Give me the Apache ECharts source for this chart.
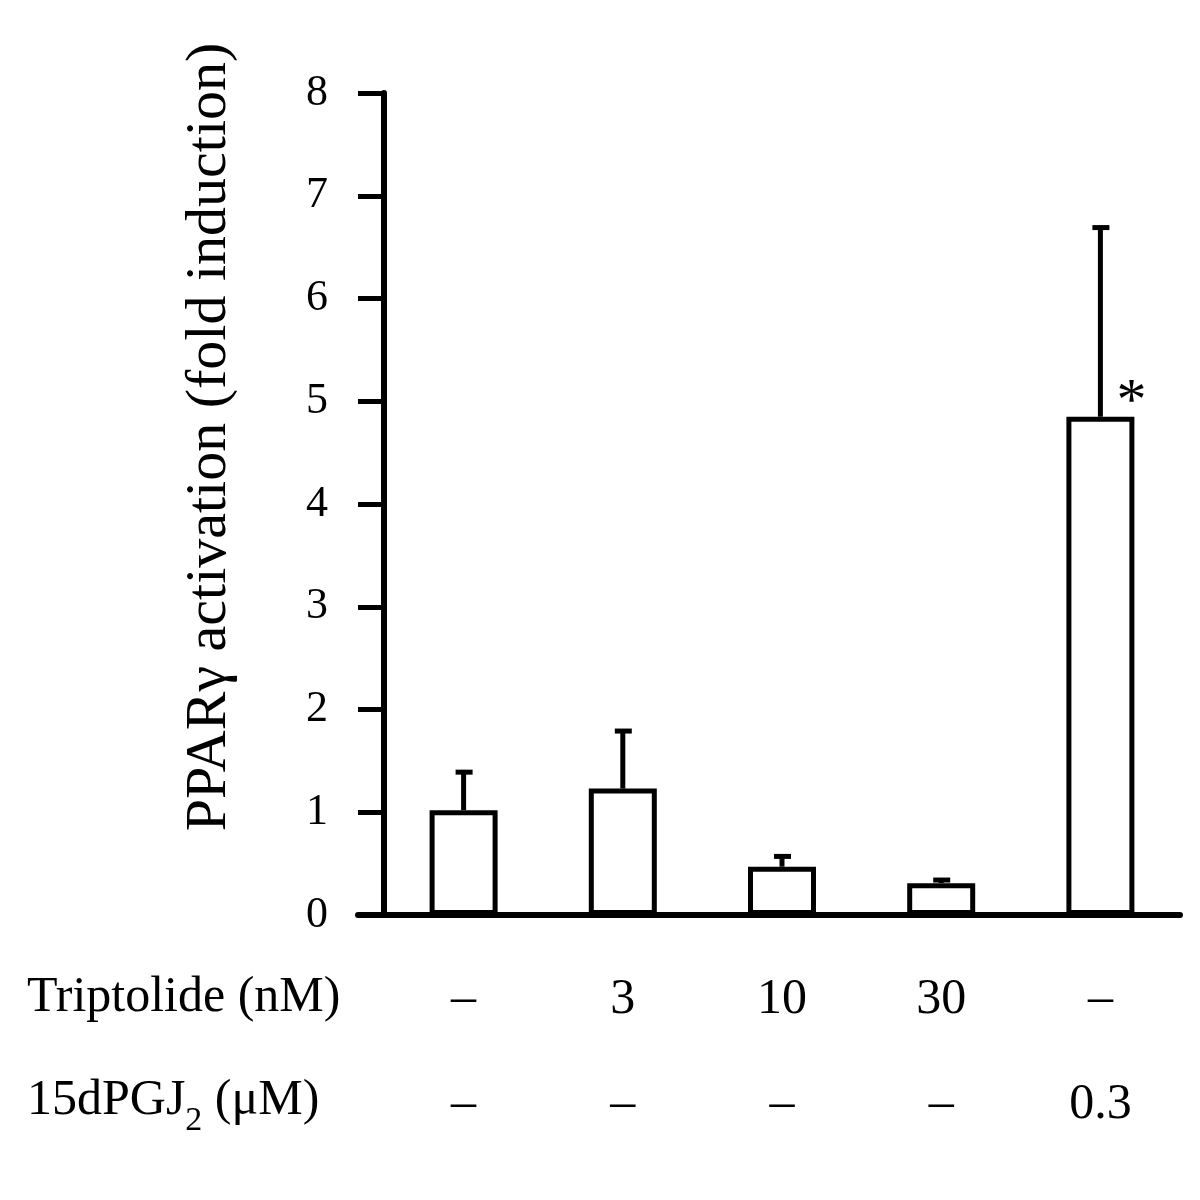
<!DOCTYPE html>
<html><head><meta charset="utf-8">
<script src="https://cdn.jsdelivr.net/npm/echarts@6/dist/echarts.min.js"></script>
<style>html,body{margin:0;padding:0;background:#fff}#c{width:1200px;height:1200px}</style>
</head><body><div id="c"></div>
<script>
const categories = ['ctrl', 'trip3', 'trip10', 'trip30', 'pgj'];
const triptolideLabels = ['–', '3', '10', '30', '–'];
const pgj2Labels = ['–', '–', '–', '–', '0.3'];
const meanValues = [1.02, 1.23, 0.47, 0.31, 4.85];
const errorValues = [0.38, 0.57, 0.11, 0.04, 1.85];
const significance = ['', '', '', '', '*'];
const yAxisName = 'PPARγ activation (fold induction)';
const row1Title = 'Triptolide (nM)';
const row2Title = ['15dPGJ', '2', ' (μM)'];

const FONT = 'Liberation Serif';
const chart = echarts.init(document.getElementById('c'), null, {renderer: 'canvas'});

const barData = meanValues.map((v, i) => significance[i] ? {
  value: v,
  label: {show: true, formatter: significance[i], position: 'top', offset: [31, 22],
          fontFamily: FONT, fontSize: 60, color: '#000'}
} : v);

const option = {
  backgroundColor: '#fff',
  animation: false,
  grid: [
    {left: 384, right: 20, top: 93, bottom: 285, containLabel: false},
    {left: 358, right: 20, top: 93, bottom: 285, containLabel: false}
  ],
  xAxis: [
    {
      type: 'category', gridIndex: 0, data: categories,
      axisLine: {show: false}, axisTick: {show: false},
      axisLabel: {
        margin: 32,
        formatter: (v, i) => '{a|' + triptolideLabels[i] + '}\n{a|' + pgj2Labels[i] + '}',
        rich: {a: {fontFamily: FONT, fontSize: 50, color: '#000', lineHeight: 105}}
      }
    },
    {
      type: 'value', gridIndex: 1, min: 0, max: 1,
      axisLine: {show: true, lineStyle: {color: '#000', width: 6}},
      axisTick: {show: false}, axisLabel: {show: false}, splitLine: {show: false}
    }
  ],
  yAxis: [
    {
      type: 'value', gridIndex: 0, min: 0, max: 8, interval: 1,
      axisLine: {show: true, lineStyle: {color: '#000', width: 6}},
      axisTick: {show: true, inside: false, length: 26, lineStyle: {color: '#000', width: 5}},
      axisLabel: {margin: 56, fontFamily: FONT, fontSize: 44, color: '#000'},
      splitLine: {show: false}
    },
    {type: 'value', gridIndex: 1, show: false, min: 0, max: 1}
  ],
  series: [
    {
      type: 'bar', xAxisIndex: 0, yAxisIndex: 0, data: barData,
      barWidth: 68,
      itemStyle: {color: '#fff', borderColor: '#000', borderWidth: 5},
      z: 2
    },
    {
      type: 'custom', xAxisIndex: 0, yAxisIndex: 0,
      data: meanValues.map((v, i) => [i, v, errorValues[i]]),
      encode: {x: 0, y: 1},
      renderItem: (params, api) => {
        const i = api.value(0), m = api.value(1), e = api.value(2);
        const base = api.coord([i, m]);
        const top = api.coord([i, m + e]);
        return {
          type: 'group',
          children: [
            {type: 'line', shape: {x1: base[0], y1: base[1], x2: top[0], y2: top[1]},
             style: {stroke: '#000', lineWidth: 5}},
            {type: 'line', shape: {x1: top[0] - 8, y1: top[1] + 1, x2: top[0] + 9, y2: top[1] + 1},
             style: {stroke: '#000', lineWidth: 5}}
          ]
        };
      },
      z: 3
    }
  ],
  graphic: [
    {
      type: 'text', x: 210, y: 437, rotation: Math.PI / 2,
      style: {text: yAxisName, font: '58px "Liberation Serif"', fill: '#000',
              align: 'center', verticalAlign: 'middle'}
    },
    {
      type: 'text', left: 27, top: 973,
      style: {text: row1Title, font: '50px "Liberation Serif"', fill: '#000'}
    },
    {
      type: 'text', left: 27, top: 1076,
      style: {
        text: '{m|' + row2Title[0] + '}{s|' + row2Title[1] + '}{m|' + row2Title[2] + '}',
        rich: {
          m: {fontFamily: FONT, fontSize: 50, fill: '#000', color: '#000', verticalAlign: 'top', lineHeight: 62},
          s: {fontFamily: FONT, fontSize: 34, fill: '#000', color: '#000', verticalAlign: 'top', padding: [28, 0, 0, 0], lineHeight: 62}
        }
      }
    }
  ]
};
chart.setOption(option);
</script></body></html>
